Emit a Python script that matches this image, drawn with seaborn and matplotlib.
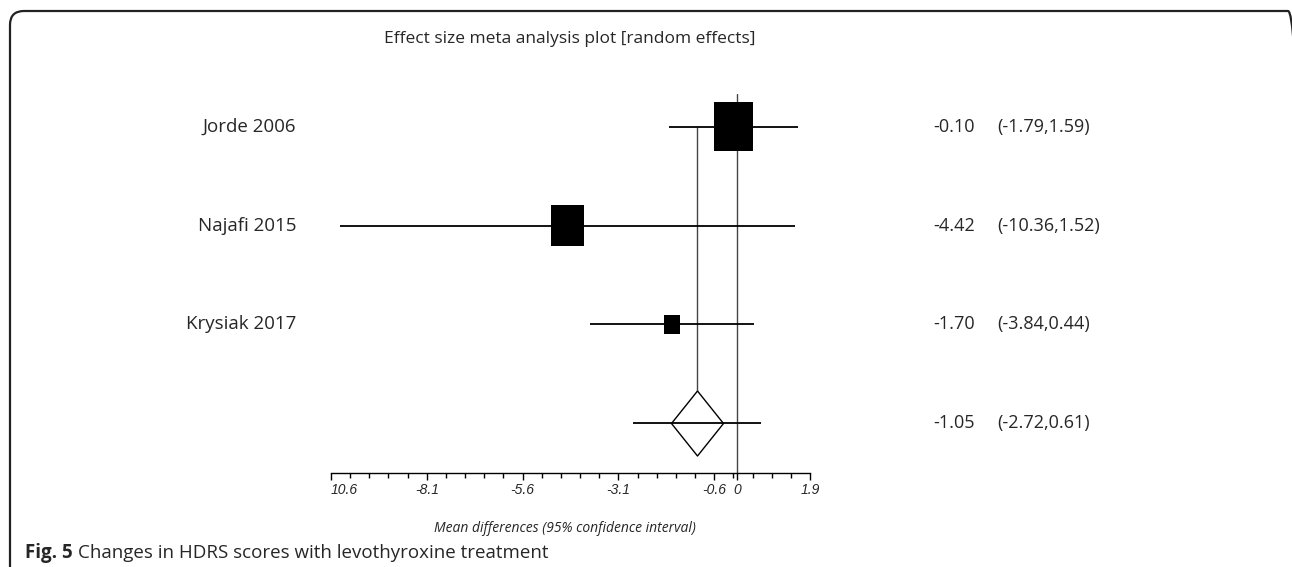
import numpy as np
import pandas as pd
import matplotlib
matplotlib.use("Agg")
import matplotlib.pyplot as plt
from matplotlib.patches import FancyBboxPatch
import matplotlib.transforms as mtransforms
import seaborn as sns

# data
studies = ["Jorde 2006", "Najafi 2015", "Krysiak 2017"]
effects = [-0.10, -4.42, -1.70]
ci_low = [-1.79, -10.36, -3.84]
ci_high = [1.59, 1.52, 0.44]
weights = [54.0, 37.8, 8.2]
pooled = -1.05
pooled_low = -2.72
pooled_high = 0.61

major_ticks = [-10.6, -8.1, -5.6, -3.1, -0.6, 0, 1.9]
major_labels = ["10.6", "-8.1", "-5.6", "-3.1", "-0.6", "0", "1.9"]

W, H = 1292, 567
sns.set_style("white")
plt.rcParams['font.family'] = ['Open Sans', 'DejaVu Sans']

fig = plt.figure(figsize=(W / 100, H / 100), dpi=100)

def fx(px):
    return px / W

def fy(py):
    return 1 - py / H

ax = fig.add_axes([fx(331), fy(473), fx(810) - fx(331), fy(94) - fy(473)])
ax.set_xlim(-10.6, 1.9)
ax.set_ylim(0.495, 4.333)

rows = list(range(len(studies) + 1, 1, -1))
df = pd.DataFrame({"study": studies, "effect": effects, "lo": ci_low,
                   "hi": ci_high, "weight": weights, "row": rows})

# vertical reference lines
ax.axvline(0, color="#444444", lw=1.0, zorder=1)
diamond_h_pt = 65 * 0.72
diamond_top = 1 + (65 / 2) / 99
ax.vlines(pooled, diamond_top, rows[0], color="#444444", lw=1.0, zorder=1)

# confidence intervals
ax.hlines(df["row"], df["lo"], df["hi"], color="black", lw=1.3, zorder=2)
ax.hlines(1, pooled_low, pooled_high, color="black", lw=1.3, zorder=4)

# weighted boxes
box = [(-0.8, -1), (0.8, -1), (0.8, 1), (-0.8, 1), (-0.8, -1)]
sns.scatterplot(data=df, x="effect", y="row", size="weight",
                sizes=(188, 1246), size_norm=(min(weights), max(weights)),
                marker=box, color="black", linewidth=0, legend=False,
                ax=ax, zorder=3)

# pooled diamond
diamond = [(0, 1), (0.8, 0), (0, -1), (-0.8, 0), (0, 1)]
ax.scatter([pooled], [1], marker=diamond, s=diamond_h_pt ** 2,
           facecolor="white", edgecolor="black", linewidth=1.0, zorder=3)

# axis styling
for side in ["top", "left", "right"]:
    ax.spines[side].set_visible(False)
ax.spines["bottom"].set_linewidth(1.0)
ax.spines["bottom"].set_color("black")
ax.set_xlabel("")
ax.set_ylabel("")
ax.set_yticks([])
ax.set_xticks(major_ticks)
ax.set_xticklabels(major_labels, fontstyle="italic", fontsize=10,
                   family="Liberation Sans")
ax.set_xticks(np.arange(-10.6, 1.95, 0.5), minor=True)
ax.tick_params(axis="x", which="major", direction="out", length=5, width=1,
               color="black", pad=2, bottom=True)
ax.tick_params(axis="x", which="minor", direction="out", length=3.3, width=1,
               color="black", bottom=True)
ax.get_xticklabels()[0].set_ha("left")
ax.patch.set_alpha(0)

# study labels and estimates
trans = mtransforms.blended_transform_factory(fig.transFigure, ax.transData)
for _, r in df.iterrows():
    ax.text(fx(296), r["row"], r["study"], transform=trans, ha="right",
            va="center", fontsize=13.5)
    ax.text(fx(933), r["row"], f"{r['effect']:.2f}", transform=trans,
            ha="left", va="center", fontsize=13)
    ax.text(fx(997), r["row"], f"({r['lo']:.2f},{r['hi']:.2f})",
            transform=trans, ha="left", va="center", fontsize=13)
ax.text(fx(933), 1, f"{pooled:.2f}", transform=trans, ha="left",
        va="center", fontsize=13)
ax.text(fx(997), 1, f"({pooled_low:.2f},{pooled_high:.2f})",
        transform=trans, ha="left", va="center", fontsize=13)

fig.text(fx(570), fy(39), "Effect size meta analysis plot [random effects]",
         ha="center", va="center", fontsize=12.5)
fig.text(fx(565), fy(528), "Mean differences (95% confidence interval)",
         ha="center", va="center", fontsize=10, fontstyle="italic")

# caption
renderer = fig.canvas.get_renderer()
t1 = fig.text(fx(25), fy(553), "Fig. 5", ha="left", va="center",
              fontsize=13.5, fontweight="bold")
bb = t1.get_window_extent(renderer)
fig.text(bb.x1 / W + fx(5), fy(553), "Changes in HDRS scores with levothyroxine treatment",
         ha="left", va="center", fontsize=13.5)

# rounded frame in pixel units, bottom and right edges run off the picture
frame = FancyBboxPatch((10, -60), 1292, H - 11 + 60,
                       boxstyle="round,pad=0,rounding_size=14",
                       transform=mtransforms.IdentityTransform(),
                       facecolor="none", edgecolor="#222222",
                       linewidth=1.6, clip_on=False)
fig.patches.append(frame)

fig.savefig("out.png", dpi=100)
